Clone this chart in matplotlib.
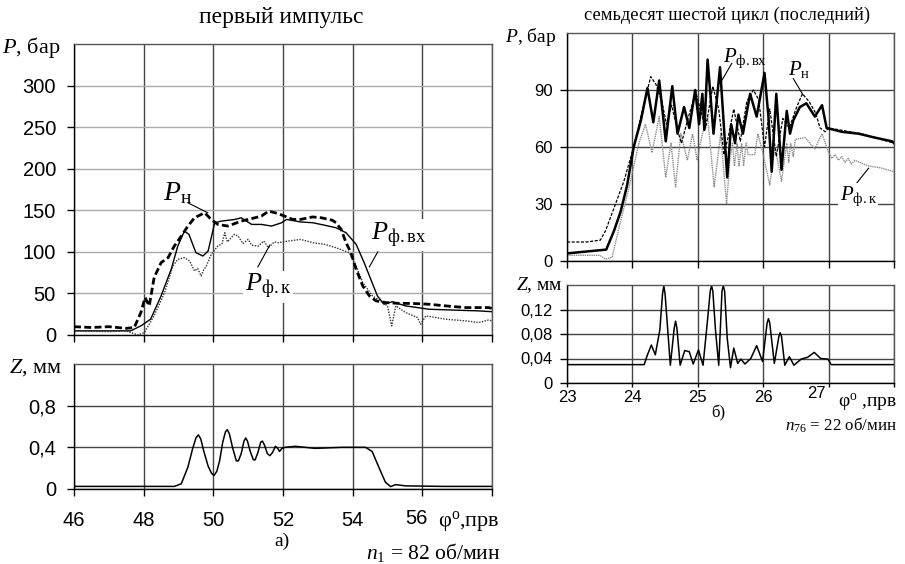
import matplotlib
matplotlib.use("Agg")
import matplotlib.pyplot as plt

plt.rcParams["font.family"] = ["Liberation Sans", "DejaVu Sans"]
plt.rcParams["mathtext.fontset"] = "custom"
plt.rcParams["mathtext.rm"] = "Liberation Serif"
plt.rcParams["mathtext.it"] = "Liberation Serif:italic"
plt.rcParams["mathtext.bf"] = "Liberation Serif:bold"
SERIF = ["Liberation Serif", "DejaVu Serif"]

# ---- а) первый импульс ----
a_pn_x = [46.0, 46.5, 47.0, 47.5, 47.73, 47.92, 48.04, 48.16, 48.3, 48.5, 48.7, 48.88, 49.08,
          49.27, 49.46, 49.75, 49.94, 50.13, 50.42, 50.8, 51.1, 51.38, 51.59, 51.86, 52.1,
          52.28, 52.5, 52.85, 53.1, 53.42, 53.52, 53.67, 53.81, 53.95, 54.1, 54.29, 54.48,
          54.67, 54.95, 55.33, 55.71, 56.19, 56.67, 57.24, 57.9, 58.0]
a_pn_y = [10, 9, 10, 8, 9, 27, 45, 35, 69, 87, 93, 107, 119, 131, 141, 147, 139, 133, 131,
          137, 140, 143, 149, 146, 142, 139, 139, 142, 141, 138, 135, 127, 111, 99, 79, 59,
          47, 41, 39, 38, 38, 37, 35, 33, 33, 32]

a_pvx_x = [46.0, 47.0, 47.63, 47.92, 48.2, 48.5, 48.79, 48.98, 49.17, 49.3, 49.5, 49.7,
           49.85, 50.04, 50.23, 50.62, 50.8, 51.1, 51.38, 51.67, 51.96, 52.1, 52.5, 52.86,
           53.2, 53.52, 53.81, 54.1, 54.33, 54.52, 54.71, 54.9, 55.14, 55.52, 56.19, 56.86,
           57.62, 58.0]
a_pvx_y = [5, 5, 5, 11, 19, 47, 79, 107, 125, 121, 99, 95, 101, 135, 137, 139, 141, 133,
           133, 131, 135, 139, 136, 135, 132, 129, 123, 109, 87, 67, 47, 37, 40, 35, 31,
           30, 29, 28]

a_pk_x = [46.0, 47.0, 47.5, 47.83, 48.02, 48.3, 48.6, 48.84, 48.98, 49.17, 49.32, 49.46,
          49.55, 49.65, 49.72, 49.8, 49.94, 50.13, 50.25, 50.33, 50.4, 50.47, 50.6, 50.71,
          50.85, 51.0, 51.1, 51.29, 51.45, 51.58, 51.75, 51.86, 52.15, 52.5, 52.86, 53.2,
          53.52, 53.9, 54.1, 54.29, 54.57, 54.86, 55.0, 55.12, 55.24, 55.52, 55.86, 55.95,
          56.1, 56.67, 57.24, 57.62, 57.9, 58.0]
a_pk_y = [5, 4, 5, 0, 3, 23, 51, 83, 91, 93, 89, 77, 80, 71, 78, 83, 97, 107, 110, 123,
          112, 115, 121, 119, 110, 115, 108, 107, 113, 105, 112, 111, 113, 115, 111, 109,
          105, 99, 83, 63, 47, 39, 35, 11, 35, 27, 21, 13, 23, 19, 17, 15, 18, 17]

a_z_x = [46.0, 47.0, 48.0, 48.88, 49.08, 49.27, 49.4, 49.5, 49.57, 49.64, 49.72, 49.85,
         49.95, 50.02, 50.1, 50.18, 50.27, 50.35, 50.4, 50.46, 50.55, 50.66, 50.72, 50.8,
         50.88, 50.93, 50.98, 51.06, 51.15, 51.2, 51.28, 51.36, 51.41, 51.47, 51.55, 51.62,
         51.7, 51.78, 51.85, 51.9, 51.97, 52.06, 52.35, 52.92, 53.69, 54.37, 54.56, 54.75,
         54.94, 55.09, 55.23, 55.52, 56.58, 58.0]
a_z_y = [0.025, 0.025, 0.025, 0.025, 0.05, 0.21, 0.38, 0.49, 0.52, 0.48, 0.37, 0.22, 0.15,
         0.13, 0.17, 0.27, 0.45, 0.55, 0.57, 0.53, 0.40, 0.27, 0.27, 0.34, 0.46, 0.49, 0.46,
         0.36, 0.28, 0.28, 0.35, 0.45, 0.46, 0.42, 0.34, 0.32, 0.35, 0.41, 0.39, 0.36, 0.39,
         0.40, 0.41, 0.39, 0.40, 0.40, 0.36, 0.21, 0.065, 0.023, 0.042, 0.03, 0.025, 0.025]

# ---- б) семьдесят шестой цикл ----
b_pvx_x = [23.0, 23.3, 23.6, 23.72, 23.82, 23.92, 24.02, 24.13, 24.23, 24.32, 24.41, 24.51,
           24.61, 24.69, 24.79, 24.87, 24.96, 25.02, 25.07, 25.1, 25.15, 25.24, 25.34, 25.45,
           25.51, 25.57, 25.62, 25.69, 25.8, 25.9, 26.02, 26.08, 26.13, 26.2, 26.28, 26.36,
           26.41, 26.46, 26.56, 26.66, 26.79, 26.9, 26.97, 27.2, 27.46, 27.7, 27.97, 28.0]
b_pvx_y = [4, 5, 6, 16, 26, 40, 60, 74, 91, 73, 95, 63, 92, 67, 81, 70, 90, 72, 88, 69, 106,
           67, 102, 44, 72, 62, 77, 67, 88, 76, 99, 76, 47, 88, 48, 79, 67, 74, 81, 83, 76,
           82, 70, 68, 67, 65, 63, 62]

b_pn_x = [23.0, 23.3, 23.51, 23.59, 23.72, 23.87, 24.02, 24.15, 24.28, 24.36, 24.45, 24.52,
          24.6, 24.68, 24.75, 24.85, 24.97, 25.05, 25.12, 25.23, 25.32, 25.4, 25.47, 25.55,
          25.65, 25.75, 25.85, 25.93, 26.02, 26.1, 26.2, 26.3, 26.4, 26.5, 26.6, 26.7, 26.8,
          26.87, 26.95, 27.0, 27.5, 28.0]
b_pn_y = [10, 10, 11, 16, 28, 42, 60, 79, 97, 93, 84, 72, 82, 70, 62, 75, 89, 78, 70, 92,
          80, 56, 66, 80, 63, 84, 90, 85, 60, 80, 55, 75, 70, 80, 88, 84, 78, 70, 68, 70, 67,
          62]

b_pk_x = [23.0, 23.3, 23.5, 23.59, 23.69, 23.82, 23.97, 24.1, 24.2, 24.3, 24.41, 24.51,
          24.59, 24.66, 24.74, 24.84, 24.92, 24.99, 25.07, 25.15, 25.25, 25.35, 25.44, 25.49,
          25.53, 25.56, 25.6, 25.63, 25.67, 25.7, 25.74, 25.77, 25.87, 25.92, 26.0, 26.1,
          26.18, 26.28, 26.36, 26.39, 26.42, 26.46, 26.49, 26.64, 26.79, 26.9, 27.0, 27.05,
          27.1, 27.15, 27.2, 27.25, 27.3, 27.35, 27.4, 27.61, 27.8, 28.0]
b_pk_y = [3, 3, 3, 1, 2, 21, 42, 62, 72, 57, 76, 44, 62, 39, 67, 53, 67, 53, 67, 76, 39, 67,
          30, 53, 62, 50, 62, 50, 62, 50, 62, 56, 56, 67, 56, 40, 60, 42, 62, 52, 62, 55, 64,
          65, 59, 67, 57, 54, 56, 53, 55, 52, 54, 51, 53, 50, 49, 47]

b_z_x = [23.0, 23.6, 24.18, 24.23, 24.29, 24.35, 24.42, 24.46, 24.48, 24.5, 24.54, 24.58,
         24.64, 24.66, 24.68, 24.73, 24.8, 24.87, 24.93, 25.01, 25.08, 25.15, 25.19, 25.21,
         25.23, 25.27, 25.32, 25.37, 25.39, 25.41, 25.45, 25.5, 25.55, 25.61, 25.66, 25.72,
         25.81, 25.9, 25.99, 26.06, 26.08, 26.1, 26.17, 26.24, 26.26, 26.28, 26.33, 26.4,
         26.47, 26.58, 26.68, 26.78, 26.88, 26.99, 27.04, 27.6, 28.0]
b_z_y = [0.030, 0.030, 0.030, 0.046, 0.062, 0.046, 0.087, 0.145, 0.159, 0.145, 0.087, 0.029,
         0.09, 0.101, 0.09, 0.029, 0.053, 0.051, 0.031, 0.054, 0.029, 0.104, 0.150, 0.159,
         0.150, 0.087, 0.029, 0.150, 0.159, 0.150, 0.073, 0.025, 0.057, 0.032, 0.039, 0.031,
         0.040, 0.061, 0.035, 0.098, 0.105, 0.098, 0.032, 0.076, 0.082, 0.076, 0.029, 0.043,
         0.029, 0.039, 0.042, 0.050, 0.040, 0.039, 0.030, 0.030, 0.030]

a_xticks = [46, 48, 50, 52, 54, 56]
a_pticks = [0, 50, 100, 150, 200, 250, 300]
a_zticks = [0, 0.4, 0.8]
a_zlabels = ["0", "0,4", "0,8"]
b_xticks = [23, 24, 25, 26, 27]
b_pticks = [0, 30, 60, 90]
b_zticks = [0, 0.04, 0.08, 0.12]
b_zlabels = ["0", "0,04", "0,08", "0,12"]

W, H = 905, 564
fig = plt.figure(figsize=(W / 100, H / 100), dpi=100)


def box(l, t, r, b):
    return [l / W, 1 - b / H, (r - l) / W, (b - t) / H]


def style(ax, xgrid, ygrid, size, pad):
    for s in ax.spines.values():
        s.set_color("black")
        s.set_linewidth(1.0)
    ax.spines["right"].set_color("#555555")
    ax.spines["top"].set_color("#555555")
    ax.set_axisbelow(True)
    ax.grid(axis="x", color=xgrid, lw=1.0)
    ax.grid(axis="y", color=ygrid, lw=1.0)
    ax.tick_params(direction="out", length=5, width=1, labelsize=size, pad=pad)


# left top
ax1 = fig.add_axes(box(74, 44, 492, 335))
ax1.plot(a_pvx_x, a_pvx_y, color="black", lw=1.0)
ax1.plot(a_pk_x, a_pk_y, color="#333333", lw=1.0, ls=(0, (1, 1)))
ax1.plot(a_pn_x, a_pn_y, color="black", lw=2.0, ls=(0, (2.5, 1.2)))
ax1.set_xlim(46, 58)
ax1.set_ylim(0, 350)
ax1.set_xticks(a_xticks + [58])
ax1.set_xticklabels([])
ax1.set_yticks(a_pticks)
style(ax1, "#444444", "#aaaaaa", 14.5, 8)

# left bottom (last labelled tick is drawn by hand, shifted left like in the source)
ax2 = fig.add_axes(box(74, 364, 492, 489))
ax2.plot(a_z_x, a_z_y, color="black", lw=1.1)
ax2.set_xlim(46, 58)
ax2.set_ylim(0, 1.2)
ax2.set_xticks(a_xticks + [58])
ax2.set_xticklabels([str(t) for t in a_xticks[:-1]] + ["", ""])
ax2.set_yticks(a_zticks)
ax2.set_yticklabels(a_zlabels)
style(ax2, "#444444", "#444444", 14.5, 8)
ax2.tick_params(axis="x", pad=11)
fig.text(416 / W, 1 - 518 / H, str(a_xticks[-1]), fontsize=14.5, ha="center", va="center")

# right top
ax3 = fig.add_axes(box(567, 33, 894, 261))
ax3.plot(b_pk_x, b_pk_y, color="#8c8c8c", lw=1.0, ls=(0, (1, 0.6)))
ax3.plot(b_pn_x, b_pn_y, color="black", lw=0.9, ls=(0, (2.5, 1.2)))
ax3.plot(b_pvx_x, b_pvx_y, color="black", lw=1.8)
ax3.set_xlim(23, 28)
ax3.set_ylim(0, 120)
ax3.set_xticks(b_xticks + [28])
ax3.set_xticklabels([])
ax3.set_yticks(b_pticks)
style(ax3, "#444444", "#444444", 12, 5)

# right bottom
ax4 = fig.add_axes(box(567, 285, 894, 383))
ax4.plot(b_z_x, b_z_y, color="black", lw=1.1)
ax4.set_xlim(23, 28)
ax4.set_ylim(0, 0.16)
ax4.set_xticks(b_xticks + [28])
ax4.set_xticklabels([str(t) for t in b_xticks[:-1]] + ["", ""])
ax4.set_yticks(b_zticks)
ax4.set_yticklabels(b_zlabels)
style(ax4, "#444444", "#444444", 12, 5)
ax4.tick_params(axis="x", length=3, pad=2)
fig.text(816 / W, 1 - 393 / H, str(b_xticks[-1]), fontsize=12, ha="center", va="center")

# titles and axis captions
fig.text(281 / W, 1 - 18 / H, "первый импульс", family=SERIF, fontsize=17,
         ha="center", va="center")
fig.text(727 / W, 1 - 15 / H, "семьдесят шестой цикл (последний)", family=SERIF,
         fontsize=13.2, ha="center", va="center")
fig.text(60 / W, 1 - 48 / H, r"$P$, бар", family=SERIF, fontsize=16, ha="right", va="center")
fig.text(62 / W, 1 - 368 / H, r"$Z$, мм", family=SERIF, fontsize=16, ha="right", va="center")
fig.text(556 / W, 1 - 37 / H, r"$P$, бар", family=SERIF, fontsize=14, ha="right", va="center")
fig.text(563 / W, 1 - 285 / H, r"$Z$, мм", family=SERIF, fontsize=14, ha="right", va="center")
fig.text(500 / W, 1 - 522 / H, r"φ$^{\mathrm{o}}$,прв", family=SERIF, fontsize=16,
         ha="right", va="center")
fig.text(897 / W, 1 - 402 / H, r"φ$^{\mathrm{o}}$ ,прв", family=SERIF, fontsize=14,
         ha="right", va="center")
fig.text(282 / W, 1 - 541 / H, "а)", family=SERIF, fontsize=14, ha="center", va="center")
fig.text(718 / W, 1 - 413 / H, "б)", family=SERIF, fontsize=12, ha="center", va="center")
fig.text(500 / W, 1 - 552 / H, r"$n_1$ = 82 об/мин", family=SERIF, fontsize=15.5,
         ha="right", va="center")
fig.text(897 / W, 1 - 425 / H, r"$n_{76}$ = 22 об/мин", family=SERIF, fontsize=12.2,
         ha="right", va="center")

# curve labels with leader lines
lab = dict(family=SERIF, va="baseline", ha="left")
ax1.text(48.55, 162, r"$P_{\mathrm{н}}$", fontsize=20, **lab)
ax1.plot([49.27, 49.84], [159, 147], color="black", lw=0.8)
ax1.text(54.54, 114, r"$P_{\mathrm{ф.вх}}$", fontsize=19,
         bbox=dict(fc="white", ec="none", pad=1), **lab)
ax1.plot([54.72, 54.48], [100, 82], color="black", lw=0.8)
ax1.text(50.9, 52, r"$P_{\mathrm{ф.к}}$", fontsize=19,
         bbox=dict(fc="white", ec="none", pad=1), **lab)
ax1.plot([51.28, 51.62], [82, 108], color="black", lw=0.8)

ax3.text(25.38, 105, r"$P_{\mathrm{ф.вх}}$", fontsize=15, **lab)
ax3.plot([25.52, 25.34], [104, 93.5], color="black", lw=0.8)
ax3.text(26.38, 98, r"$P_{\mathrm{н}}$", fontsize=15, **lab)
ax3.plot([26.46, 26.61], [96, 87.4], color="black", lw=0.8)
ax3.text(27.17, 32, r"$P_{\mathrm{ф.к}}$", fontsize=15,
         bbox=dict(fc="white", ec="none", pad=1), **lab)
ax3.plot([27.43, 27.61], [41, 48.8], color="black", lw=0.8)

fig.savefig("out.png", dpi=100)
